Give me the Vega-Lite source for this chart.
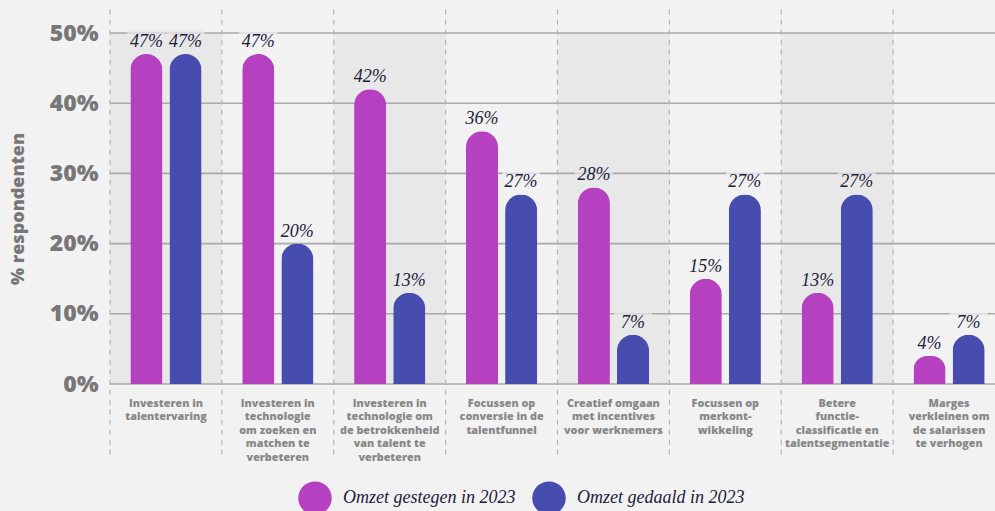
{
  "$schema": "https://vega.github.io/schema/vega-lite/v6.json",
  "width": 885,
  "height": 351,
  "autosize": {"type": "none"},
  "padding": {"left": 110, "top": 33, "right": 0, "bottom": 127},
  "background": "#f2f2f2",
  "datasets": {
    "bars": [
      {"cat": "Investeren in\ntalentervaring", "serie": "Omzet gestegen in 2023", "pct": 47},
      {"cat": "Investeren in\ntalentervaring", "serie": "Omzet gedaald in 2023", "pct": 47},
      {"cat": "Investeren in\ntechnologie\nom zoeken en\nmatchen te\nverbeteren", "serie": "Omzet gestegen in 2023", "pct": 47},
      {"cat": "Investeren in\ntechnologie\nom zoeken en\nmatchen te\nverbeteren", "serie": "Omzet gedaald in 2023", "pct": 20},
      {"cat": "Investeren in\ntechnologie om\nde betrokkenheid\nvan talent te\nverbeteren", "serie": "Omzet gestegen in 2023", "pct": 42},
      {"cat": "Investeren in\ntechnologie om\nde betrokkenheid\nvan talent te\nverbeteren", "serie": "Omzet gedaald in 2023", "pct": 13},
      {"cat": "Focussen op\nconversie in de\ntalentfunnel", "serie": "Omzet gestegen in 2023", "pct": 36},
      {"cat": "Focussen op\nconversie in de\ntalentfunnel", "serie": "Omzet gedaald in 2023", "pct": 27},
      {"cat": "Creatief omgaan\nmet incentives\nvoor werknemers", "serie": "Omzet gestegen in 2023", "pct": 28},
      {"cat": "Creatief omgaan\nmet incentives\nvoor werknemers", "serie": "Omzet gedaald in 2023", "pct": 7},
      {"cat": "Focussen op\nmerkont-\nwikkeling", "serie": "Omzet gestegen in 2023", "pct": 15},
      {"cat": "Focussen op\nmerkont-\nwikkeling", "serie": "Omzet gedaald in 2023", "pct": 27},
      {"cat": "Betere\nfunctie-\nclassificatie en\ntalentsegmentatie", "serie": "Omzet gestegen in 2023", "pct": 13},
      {"cat": "Betere\nfunctie-\nclassificatie en\ntalentsegmentatie", "serie": "Omzet gedaald in 2023", "pct": 27},
      {"cat": "Marges\nverkleinen om\nde salarissen\nte verhogen", "serie": "Omzet gestegen in 2023", "pct": 4},
      {"cat": "Marges\nverkleinen om\nde salarissen\nte verhogen", "serie": "Omzet gedaald in 2023", "pct": 7}
    ],
    "cats": [
      {"cat": "Investeren in\ntalentervaring"},
      {"cat": "Investeren in\ntechnologie\nom zoeken en\nmatchen te\nverbeteren"},
      {"cat": "Investeren in\ntechnologie om\nde betrokkenheid\nvan talent te\nverbeteren"},
      {"cat": "Focussen op\nconversie in de\ntalentfunnel"},
      {"cat": "Creatief omgaan\nmet incentives\nvoor werknemers"},
      {"cat": "Focussen op\nmerkont-\nwikkeling"},
      {"cat": "Betere\nfunctie-\nclassificatie en\ntalentsegmentatie"},
      {"cat": "Marges\nverkleinen om\nde salarissen\nte verhogen"}
    ],
    "shade": [
      {"cat": "Investeren in\ntalentervaring"},
      {"cat": "Investeren in\ntechnologie om\nde betrokkenheid\nvan talent te\nverbeteren"},
      {"cat": "Creatief omgaan\nmet incentives\nvoor werknemers"},
      {"cat": "Betere\nfunctie-\nclassificatie en\ntalentsegmentatie"}
    ],
    "grid": [{"v": 0}, {"v": 10}, {"v": 20}, {"v": 30}, {"v": 40}, {"v": 50}]
  },
  "layer": [
    {
      "data": {"name": "shade"},
      "mark": {"type": "bar", "color": "#e8e8e8"},
      "encoding": {
        "x": {"field": "cat", "type": "nominal", "title": null},
        "y": {"datum": 50, "type": "quantitative", "title": "% respondenten"},
        "y2": {"datum": 0}
      }
    },
    {
      "data": {"name": "grid"},
      "mark": {"type": "rule", "color": "#a9a9a9", "strokeWidth": 1.6},
      "encoding": {
        "y": {"field": "v", "type": "quantitative", "title": "% respondenten"}
      }
    },
    {
      "data": {"name": "cats"},
      "mark": {"type": "rule", "color": "#b3b3b3", "strokeWidth": 1.2, "strokeDash": [5, 5]},
      "encoding": {
        "x": {"field": "cat", "type": "nominal", "bandPosition": 0, "title": null},
        "y": {"datum": 53.3, "type": "quantitative", "title": "% respondenten"},
        "y2": {"datum": -10.8}
      }
    },
    {
      "data": {"name": "bars"},
      "mark": {"type": "bar", "cornerRadiusTopLeft": 16, "cornerRadiusTopRight": 16},
      "encoding": {
        "x": {
          "field": "cat", "type": "nominal", "title": null,
          "scale": {
            "domain": [
              "Investeren in\ntalentervaring",
              "Investeren in\ntechnologie\nom zoeken en\nmatchen te\nverbeteren",
              "Investeren in\ntechnologie om\nde betrokkenheid\nvan talent te\nverbeteren",
              "Focussen op\nconversie in de\ntalentfunnel",
              "Creatief omgaan\nmet incentives\nvoor werknemers",
              "Focussen op\nmerkont-\nwikkeling",
              "Betere\nfunctie-\nclassificatie en\ntalentsegmentatie",
              "Marges\nverkleinen om\nde salarissen\nte verhogen"
            ],
            "range": [0, 895],
            "paddingInner": 0,
            "paddingOuter": 0
          },
          "axis": {"labelExpr": "split(datum.label, '\\n')"}
        },
        "xOffset": {
          "field": "serie", "type": "nominal",
          "scale": {"domain": ["Omzet gestegen in 2023", "Omzet gedaald in 2023"], "paddingInner": 0.18, "paddingOuter": 0.52}
        },
        "y": {
          "field": "pct", "type": "quantitative", "title": "% respondenten",
          "scale": {"domain": [0, 50], "nice": false},
          "axis": {"values": [0, 10, 20, 30, 40, 50], "labelExpr": "datum.value + '%'"}
        },
        "color": {
          "field": "serie", "type": "nominal",
          "scale": {"domain": ["Omzet gestegen in 2023", "Omzet gedaald in 2023"], "range": ["#b541c0", "#474caf"]},
          "legend": {
            "title": null, "orient": "none", "direction": "horizontal",
            "legendX": 188, "legendY": 448
          }
        }
      }
    },
    {
      "data": {"name": "bars"},
      "transform": [
        {"lookup": "cat", "from": {"data": {"name": "shade"}, "key": "cat"}, "as": "sh"}
      ],
      "mark": {"type": "tick", "orient": "horizontal", "thickness": 20, "size": 38, "yOffset": -14},
      "encoding": {
        "x": {"field": "cat", "type": "nominal", "title": null},
        "xOffset": {"field": "serie", "type": "nominal"},
        "y": {"field": "pct", "type": "quantitative", "title": "% respondenten"},
        "color": {"condition": {"test": "datum.sh != null", "value": "#e8e8e8"}, "value": "#f2f2f2"}
      }
    },
    {
      "data": {"name": "bars"},
      "transform": [{"calculate": "datum.pct + '%'", "as": "lbl"}],
      "mark": {"type": "text", "font": "Liberation Serif", "fontStyle": "italic", "fontSize": 18, "color": "#1c1c3c", "dy": -7, "baseline": "alphabetic"},
      "encoding": {
        "x": {"field": "cat", "type": "nominal", "title": null},
        "xOffset": {"field": "serie", "type": "nominal"},
        "y": {"field": "pct", "type": "quantitative", "title": "% respondenten"},
        "text": {"field": "lbl"}
      }
    }
  ],
  "config": {
    "view": {"stroke": null},
    "axis": {"ticks": false, "domain": false, "grid": false},
    "axisY": {
      "labelFont": "Open Sans", "labelFontWeight": 800, "labelFontSize": 23, "labelColor": "#777777", "labelPadding": 12,
      "titleFont": "Open Sans", "titleFontWeight": 800, "titleFontSize": 18, "titleColor": "#777777", "titlePadding": 22
    },
    "axisX": {
      "labelFont": "Open Sans", "labelFontWeight": 800, "labelFontSize": 10.8, "labelColor": "#888888",
      "labelPadding": 13, "labelLineHeight": 13.5, "labelAngle": 0, "labelBaseline": "top", "labelLimit": 0
    },
    "legend": {
      "symbolType": "circle", "symbolSize": 1120, "symbolStrokeWidth": 0, "symbolOpacity": 1,
      "labelFont": "Liberation Serif", "labelFontStyle": "italic", "labelFontSize": 18, "labelColor": "#1c1c3c",
      "labelOffset": 11, "columnPadding": 16, "labelLimit": 0
    }
  }
}
